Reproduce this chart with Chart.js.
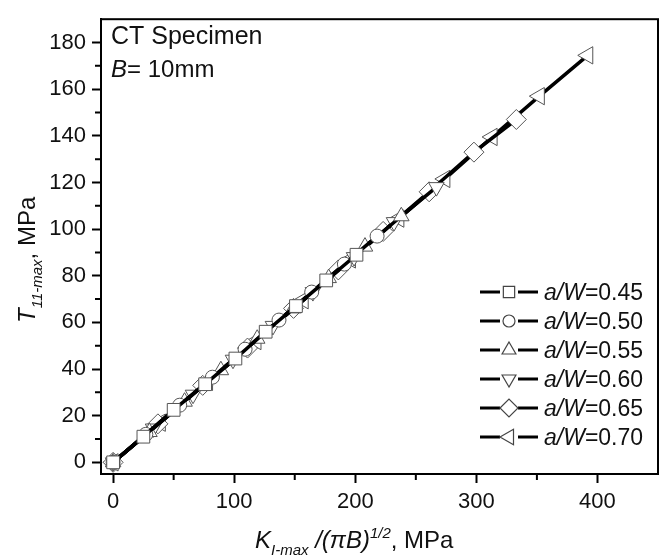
<!DOCTYPE html>
<html>
<head>
<meta charset="utf-8">
<script src="https://cdn.jsdelivr.net/npm/chart.js@4/dist/chart.umd.min.js"></script>
<style>
  html, body { margin: 0; padding: 0; background: #fff; }
  #wrap { width: 669px; height: 559px; }
</style>
</head>
<body>
<div id="wrap"><canvas id="ctChart" width="669" height="559"></canvas></div>
<script>
// K_I-max/(pi B)^1/2 (x) vs T_11-max (y), MPa, one pair of arrays per a/W
const aW_045_K = [0, 25, 50, 76, 101, 126, 151, 176, 201];
const aW_045_T = [0, 11, 22.5, 33.5, 44.5, 56, 67, 78, 89];
const aW_050_K = [0, 27, 55, 82, 109, 137, 164, 191, 218];
const aW_050_T = [0, 12, 24.5, 36.5, 48.5, 61, 73, 85, 97];
const aW_055_K = [0, 30, 59, 89, 119, 149, 178, 208, 238];
const aW_055_T = [0, 13, 26, 39.5, 53, 66, 79, 92.5, 105.5];
const aW_060_K = [0, 33, 66, 99, 132, 165, 199, 232, 267];
const aW_060_T = [0, 14.5, 29, 44, 58.5, 73, 88, 103, 118];
const aW_065_K = [0, 37, 74, 111, 149, 186, 223, 261, 298, 333];
const aW_065_T = [0, 16.5, 33, 49, 66, 82.5, 99, 116, 133, 147];
const aW_070_K = [0, 39, 78, 118, 157, 196, 236, 274, 313, 352, 392];
const aW_070_T = [0, 17, 34.5, 52, 69.5, 87, 104.5, 121.5, 139.5, 157, 174.5];

const seriesNames = ['0.45', '0.50', '0.55', '0.60', '0.65', '0.70'];
const seriesK = [aW_045_K, aW_050_K, aW_055_K, aW_060_K, aW_065_K, aW_070_K];
const seriesT = [aW_045_T, aW_050_T, aW_055_T, aW_060_T, aW_065_T, aW_070_T];
const markerStyle = ['rect', 'circle', 'triangle', 'triangle', 'rectRot', 'triangle'];
const markerRot = [0, 0, 0, 180, 0, -90];
const markerRadius = [9, 7, 9, 9, 10, 10];

const xTicks = [0, 100, 200, 300, 400];
const yTicks = [0, 20, 40, 60, 80, 100, 120, 140, 160, 180];
const xMinor = [50, 150, 250, 350];
const yMinor = [10, 30, 50, 70, 90, 110, 130, 150, 170];

const FONT = "'Liberation Sans', Arial, sans-serif";

const datasets = seriesNames.map((n, i) => ({
  label: 'a/W=' + n,
  data: seriesK[i].map((k, j) => ({ x: k, y: seriesT[i][j] })),
  borderColor: '#000',
  borderWidth: 3.5,
  pointStyle: markerStyle[i],
  rotation: markerRot[i],
  pointRadius: markerRadius[i],
  pointBorderColor: '#555',
  pointBackgroundColor: '#fff',
  pointBorderWidth: 1,
  tension: 0
}));

// frame, minor ticks, legend, annotations and axis titles
const decorPlugin = {
  id: 'decor',
  afterDraw(chart) {
    const { ctx, chartArea: a, scales: { x, y } } = chart;
    ctx.save();
    ctx.strokeStyle = '#000';
    ctx.lineWidth = 2;
    ctx.strokeRect(a.left, a.top, a.right - a.left, a.bottom - a.top);

    ctx.beginPath();
    xMinor.forEach(v => {
      const px = x.getPixelForValue(v);
      ctx.moveTo(px, a.bottom); ctx.lineTo(px, a.bottom + 6);
    });
    yMinor.forEach(v => {
      const py = y.getPixelForValue(v);
      ctx.moveTo(a.left, py); ctx.lineTo(a.left - 6, py);
    });
    ctx.stroke();

    // legend
    const lx = 480, tx = 544;
    seriesNames.forEach((n, i) => {
      const ly = 292 + i * 29;
      ctx.strokeStyle = '#000';
      ctx.lineWidth = 3;
      ctx.beginPath();
      ctx.moveTo(lx, ly); ctx.lineTo(lx + 20, ly);
      ctx.moveTo(lx + 38, ly); ctx.lineTo(lx + 58, ly);
      ctx.stroke();
      ctx.fillStyle = '#fff';
      ctx.strokeStyle = '#444';
      ctx.lineWidth = 1.2;
      Chart.helpers.drawPoint(ctx, {
        pointStyle: markerStyle[i], rotation: markerRot[i],
        radius: markerRadius[i] - 1, borderWidth: 1.2
      }, lx + 29, ly);
      ctx.fillStyle = '#111';
      ctx.textBaseline = 'alphabetic';
      ctx.textAlign = 'left';
      ctx.font = 'italic 23px ' + FONT;
      ctx.fillText('a/W', tx, ly + 8);
      const w = ctx.measureText('a/W').width;
      ctx.font = '23px ' + FONT;
      ctx.fillText('=' + n, tx + w, ly + 8);
    });

    // annotations
    ctx.fillStyle = '#111';
    ctx.font = '25px ' + FONT;
    ctx.fillText('CT Specimen', 111, 44);
    ctx.font = 'italic 24px ' + FONT;
    ctx.fillText('B', 111, 77);
    let bw = ctx.measureText('B').width;
    ctx.font = '24px ' + FONT;
    ctx.fillText('= 10mm', 111 + bw, 77);

    // x title
    const runs = (parts, x0, y0) => {
      let cx = x0;
      parts.forEach(p => {
        ctx.font = p[1];
        ctx.fillText(p[0], cx, y0 + (p[2] || 0));
        cx += ctx.measureText(p[0]).width;
      });
    };
    runs([
      ['K', 'italic 24px ' + FONT],
      ['I-max', 'italic 15px ' + FONT, 7],
      [' /(\u03c0B)', 'italic 24px ' + FONT],
      ['1/2', 'italic 15px ' + FONT, -10],
      [', MPa', '24px ' + FONT]
    ], 255, 548);

    // y title
    ctx.translate(35, 323);
    ctx.rotate(-Math.PI / 2);
    runs([
      ['T', 'italic 24px ' + FONT],
      ['11-max', 'italic 15px ' + FONT, 7],
      [', MPa', '24px ' + FONT]
    ], 0, 0);
    ctx.restore();
  }
};

new Chart(document.getElementById('ctChart'), {
  type: 'line',
  data: { datasets },
  options: {
    responsive: false,
    animation: false,
    layout: { padding: { top: 10, right: 6, left: 0, bottom: 0 } },
    plugins: { legend: { display: false }, tooltip: { enabled: false } },
    scales: {
      x: {
        type: 'linear', min: -10, max: 450,
        afterFit: s => { s.height = 85; },
        afterBuildTicks: s => { s.ticks = xTicks.map(v => ({ value: v })); },
        grid: { drawOnChartArea: false, tickLength: 9, tickWidth: 2, tickColor: '#000' },
        border: { display: true, color: '#000', width: 2 },
        ticks: { color: '#111', padding: 6, font: { family: FONT, size: 22 } }
      },
      y: {
        type: 'linear', min: -5, max: 190,
        afterFit: s => { s.width = 101; },
        afterBuildTicks: s => { s.ticks = yTicks.map(v => ({ value: v })); },
        grid: { drawOnChartArea: false, tickLength: 9, tickWidth: 2, tickColor: '#000' },
        border: { display: true, color: '#000', width: 2 },
        ticks: { color: '#111', padding: 6, font: { family: FONT, size: 22 } }
      }
    }
  },
  plugins: [decorPlugin]
});
</script>
</body>
</html>
